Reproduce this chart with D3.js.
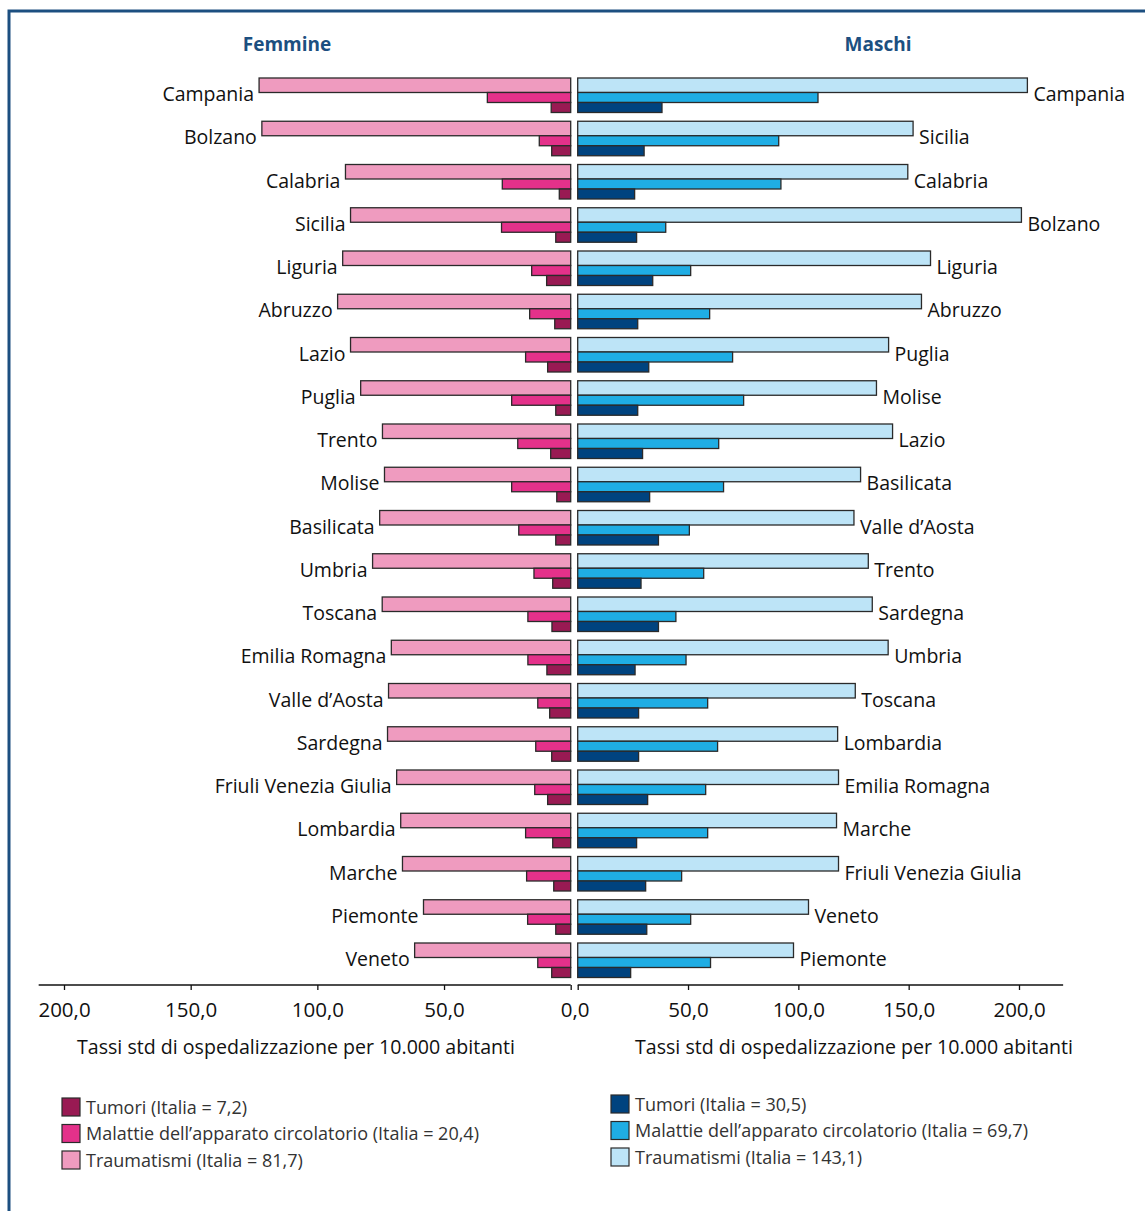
<!DOCTYPE html>
<html>
<head>
<meta charset="utf-8">
<script src="https://cdn.jsdelivr.net/npm/d3@7"></script>
<style>
  body { margin: 0; background: #fff; }
  text { font-family: "Open Sans", "Noto Sans", sans-serif; }
</style>
</head>
<body>
<svg id="chart" width="1145" height="1211"></svg>
<script>
// Femmine (ordered as in the chart)
const regioniF = ["Campania", "Bolzano", "Calabria", "Sicilia", "Liguria", "Abruzzo", "Lazio", "Puglia",
  "Trento", "Molise", "Basilicata", "Umbria", "Toscana", "Emilia Romagna", "Valle d\u2019Aosta", "Sardegna",
  "Friuli Venezia Giulia", "Lombardia", "Marche", "Piemonte", "Veneto"];
const traumiF = [123.0, 121.9, 88.9, 86.9, 90.0, 92.0, 86.9, 82.9, 74.3, 73.5, 75.4, 78.2, 74.4, 70.8, 71.9, 72.3, 68.7, 67.1, 66.4, 58.1, 61.6];
const circolF = [32.9, 12.4, 27.0, 27.3, 15.4, 16.2, 17.8, 23.3, 20.9, 23.3, 20.5, 14.5, 16.9, 16.9, 13.0, 13.8, 14.2, 17.8, 17.4, 17.0, 13.0];
const tumoriF = [7.7, 7.5, 4.5, 5.9, 9.5, 6.3, 9.1, 5.9, 7.9, 5.5, 5.9, 7.1, 7.4, 9.4, 8.3, 7.5, 9.1, 7.1, 6.7, 5.9, 7.5];

// Maschi (ordered as in the chart)
const regioniM = ["Campania", "Sicilia", "Calabria", "Bolzano", "Liguria", "Abruzzo", "Puglia", "Molise",
  "Lazio", "Basilicata", "Valle d\u2019Aosta", "Trento", "Sardegna", "Umbria", "Toscana", "Lombardia",
  "Emilia Romagna", "Marche", "Friuli Venezia Giulia", "Veneto", "Piemonte"];
const traumiM = [203.8, 152.0, 149.6, 201.1, 159.9, 155.8, 140.9, 135.4, 142.7, 128.2, 125.2, 131.7, 133.5, 140.7, 125.8, 117.8, 118.2, 117.3, 118.2, 104.6, 97.8];
const circolM = [108.9, 91.1, 92.1, 39.9, 51.2, 59.8, 70.2, 75.2, 63.9, 66.1, 50.6, 57.1, 44.5, 49.1, 58.9, 63.4, 58.0, 58.9, 47.1, 51.2, 60.2];
const tumoriM = [38.2, 30.1, 25.8, 26.7, 34.0, 27.2, 32.2, 27.2, 29.4, 32.6, 36.6, 28.7, 36.6, 26.0, 27.6, 27.6, 31.7, 26.7, 30.8, 31.3, 24.0];

const tickValues = [0, 50, 100, 150, 200];
const legendaF = ["Tumori (Italia = 7,2)", "Malattie dell\u2019apparato circolatorio (Italia = 20,4)", "Traumatismi (Italia = 81,7)"];
const legendaM = ["Tumori (Italia = 30,5)", "Malattie dell\u2019apparato circolatorio (Italia = 69,7)", "Traumatismi (Italia = 143,1)"];

const colF = { trauma: "#ef9bbf", circ: "#e4318a", tum: "#991a53" };
const colM = { trauma: "#bde4f7", circ: "#1fade4", tum: "#00437f" };
const blu = "#1c4f80";

const svg = d3.select("#chart");

// cornice
svg.append("path")
  .attr("d", "M9,1215 L9,11 L1150,11")
  .attr("fill", "none")
  .attr("stroke", blu)
  .attr("stroke-width", 3);

const xF = d3.scaleLinear().domain([0, 200]).range([570.7, 64]);
const xM = d3.scaleLinear().domain([0, 200]).range([577.7, 1019]);
const y = d3.scaleBand().domain(d3.range(21)).range([78, 78 + 43.25 * 21]);

// bar layout inside each row
const hT = 14.5, hC = 10, hTu = 10;

function drawSide(g, x, regioni, traumi, circol, tumori, col, left) {
  const rows = g.selectAll("g.row").data(regioni).enter().append("g").attr("class", "row")
    .attr("transform", (d, i) => `translate(0,${y(i)})`);

  const bar = (sel, vals, yOff, h, fill) => {
    sel.append("rect")
      .attr("x", (d, i) => left ? x(vals[i]) : x(0))
      .attr("y", yOff)
      .attr("width", (d, i) => Math.abs(x(vals[i]) - x(0)))
      .attr("height", h)
      .attr("fill", fill)
      .attr("stroke", "#2a2a2a")
      .attr("stroke-width", 1.3);
  };
  bar(rows, traumi, 0, hT, col.trauma);
  bar(rows, circol, hT, hC, col.circ);
  bar(rows, tumori, hT + hC, hTu, col.tum);

  rows.append("text")
    .attr("x", (d, i) => left ? x(traumi[i]) - 5 : x(traumi[i]) + 6)
    .attr("y", 23)
    .attr("text-anchor", left ? "end" : "start")
    .attr("font-size", 19.5)
    .attr("fill", "#111")
    .text(d => d);
}

drawSide(svg.append("g"), xF, regioniF, traumiF, circolF, tumoriF, colF, true);
drawSide(svg.append("g"), xM, regioniM, traumiM, circolM, tumoriM, colM, false);

// titles
svg.append("text").attr("x", 287).attr("y", 51).attr("text-anchor", "middle")
  .attr("font-size", 19).attr("font-weight", "bold").attr("fill", blu).text("Femmine");
svg.append("text").attr("x", 878).attr("y", 51).attr("text-anchor", "middle")
  .attr("font-size", 19).attr("font-weight", "bold").attr("fill", blu).text("Maschi");

// axes
const fmt = d => d3.format(".1f")(d).replace(".", ",");
const axisY = 985;

const gAxF = svg.append("g").attr("transform", `translate(0,${axisY})`)
  .call(d3.axisBottom(xF).tickValues(tickValues).tickSize(5).tickFormat(fmt));
const gAxM = svg.append("g").attr("transform", `translate(0,${axisY})`)
  .call(d3.axisBottom(xM).tickValues(tickValues).tickSize(5).tickFormat(d => d === 0 ? "" : fmt(d)));

[gAxF, gAxM].forEach(g => {
  g.select(".domain").remove();
  g.selectAll(".tick line").attr("stroke", "#111").attr("stroke-width", 1.3);
  g.selectAll(".tick text")
    .attr("y", 32).attr("dy", 0)
    .attr("font-size", 20.5).attr("fill", "#111")
    .attr("font-family", "'Open Sans', sans-serif");
});
gAxF.selectAll(".tick text").filter(d => d === 0).attr("dx", 4);

svg.append("line").attr("x1", xF(210)).attr("x2", xF(0)).attr("y1", axisY).attr("y2", axisY)
  .attr("stroke", "#111").attr("stroke-width", 1.5);
svg.append("line").attr("x1", xM(0)).attr("x2", xM(220)).attr("y1", axisY).attr("y2", axisY)
  .attr("stroke", "#111").attr("stroke-width", 1.5);

svg.append("text").attr("x", 296).attr("y", 1054).attr("text-anchor", "middle")
  .attr("font-size", 19.6).attr("fill", "#111").text("Tassi std di ospedalizzazione per 10.000 abitanti");
svg.append("text").attr("x", 854).attr("y", 1054).attr("text-anchor", "middle")
  .attr("font-size", 19.6).attr("fill", "#111").text("Tassi std di ospedalizzazione per 10.000 abitanti");

// legends
function legend(x0, y0, labels, cols) {
  const g = svg.append("g").attr("transform", `translate(${x0},${y0})`);
  const it = g.selectAll("g").data(labels).enter().append("g")
    .attr("transform", (d, i) => `translate(0,${i * 26.5})`);
  it.append("rect").attr("width", 18).attr("height", 18)
    .attr("fill", (d, i) => cols[i]).attr("stroke", "#2a2a2a").attr("stroke-width", 1.2);
  it.append("text").attr("x", 24).attr("y", 15.5)
    .attr("font-size", 18).attr("fill", "#333").text(d => d);
}
legend(62, 1098, legendaF, [colF.tum, colF.circ, colF.trauma]);
legend(611, 1095, legendaM, [colM.tum, colM.circ, colM.trauma]);
</script>
</body>
</html>
